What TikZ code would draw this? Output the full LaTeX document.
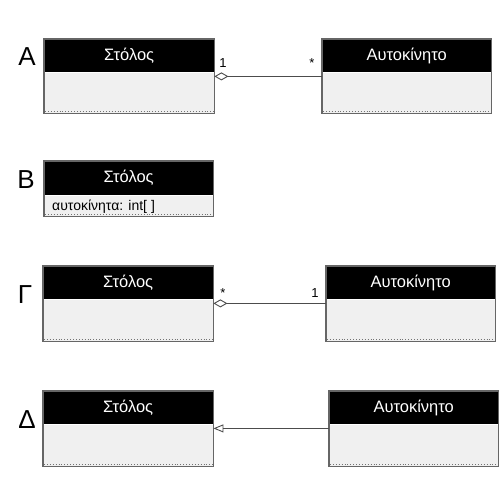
\documentclass[tikz,border=0pt]{standalone}
\usepackage{fontspec}
\setmainfont{Liberation Sans}
\usetikzlibrary{arrows.meta}
\newcommand\umlclass[7]{%
  \node[head, minimum width=#4, minimum height=#5] (#1h) at (#2,#3) {#7};
  \node[bodybox, minimum width=#4, minimum height=#6] (#1b) at (#1h.south west) {};
  \draw[black!60, line width=1.1pt] (#1h.north west) rectangle (#1b.south east);
  \draw[black!55, dotted, line width=0.9pt] ([xshift=1pt,yshift=2.5pt]#1b.south west) -- ([xshift=-1pt,yshift=2.5pt]#1b.south east);
}
\begin{document}
\begin{tikzpicture}[x=1pt,y=-1pt,
  head/.style={fill=black, text=white, anchor=north west, inner sep=0pt, font=\fontsize{16.5}{16.5}\selectfont},
  bodybox/.style={fill=black!6, anchor=north west, inner sep=0pt},
  letter/.style={font=\fontsize{26}{26}\selectfont, anchor=base, inner sep=0pt},
  mult/.style={font=\fontsize{13}{13}\selectfont, anchor=base, inner sep=0pt},
  attr/.style={font=\fontsize{14}{14}\selectfont, anchor=base west, inner sep=0pt},
  conn/.style={draw=black!70, line width=0.9pt},
  aggr/.style={conn, {Diamond[open,length=14pt,width=8pt]}-},
  gen/.style={conn, {Triangle[open,length=10pt,width=8pt]}-}
]
\fill[white] (0,0) rectangle (500,500);
\useasboundingbox (0,0) rectangle (500,500);

% A
\node[letter] (la) at (27,66) {A};
\umlclass{af}{44}{39}{170pt}{33pt}{41pt}{Στόλος}
\umlclass{ac}{322}{39}{169pt}{33pt}{41pt}{Αυτοκίνητο}
\draw[aggr] ([yshift=-4pt]afb.north east) -- ([yshift=-4pt]acb.north west);
\node[mult] (ma1) at (223,68) {1};
\node[mult] (ma2) at (312,68) {*};

% B
\node[letter] (lb) at (26,188) {B};
\umlclass{bf}{44}{161}{169pt}{34pt}{21pt}{Στόλος}
\node[attr] (battr) at (52,210) {αυτοκίνητα: int[ ]};

% Gamma
\node[letter] (lg) at (25,303) {Γ};
\umlclass{gf}{43}{266}{170pt}{33pt}{42pt}{Στόλος}
\umlclass{gc}{326}{266}{169pt}{33pt}{42pt}{Αυτοκίνητο}
\draw[aggr] ([yshift=-4pt]gfb.north east) -- ([yshift=-4pt]gcb.north west);
\node[mult] (mg1) at (223,297) {*};
\node[mult] (mg2) at (315,297) {1};

% Delta
\node[letter] (ld) at (27,428) {Δ};
\umlclass{df}{43}{391}{170pt}{33pt}{42pt}{Στόλος}
\umlclass{dc}{329}{391}{169pt}{33pt}{42pt}{Αυτοκίνητο}
\draw[gen] ([yshift=-4pt]dfb.north east) -- ([yshift=-4pt]dcb.north west);
\end{tikzpicture}
\end{document}
